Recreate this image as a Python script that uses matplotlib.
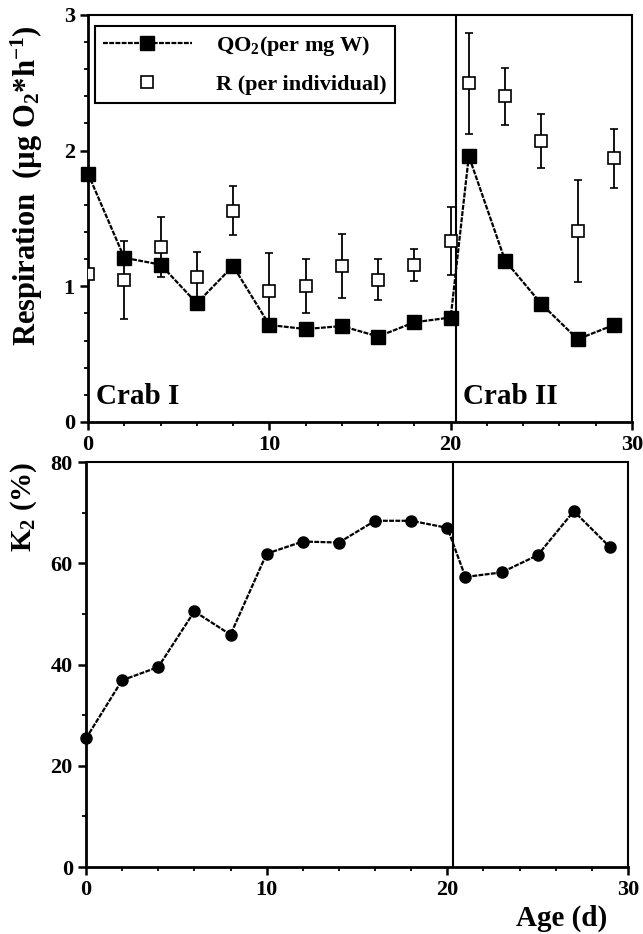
import numpy as np
import matplotlib.pyplot as plt
from matplotlib.ticker import MultipleLocator
from matplotlib.lines import Line2D

plt.rcParams['font.family'] = ['Liberation Serif', 'DejaVu Serif']
plt.rcParams['font.weight'] = 'bold'
plt.rcParams['mathtext.fontset'] = 'custom'
plt.rcParams['mathtext.rm'] = 'Liberation Serif:bold'
plt.rcParams['mathtext.bf'] = 'Liberation Serif:bold'
plt.rcParams['mathtext.it'] = 'Liberation Serif:bold'
plt.rcParams['mathtext.default'] = 'bf'

# age in days, crab I and crab II stages
age = [0, 2, 4, 6, 8, 10, 12, 14, 16, 18, 20, 21, 23, 25, 27, 29]
moult_age = 20.3

# oxygen consumption per mg dry weight
qo2 = [1.83, 1.21, 1.16, 0.875, 1.15, 0.715, 0.685, 0.707, 0.63, 0.735, 0.77,
       1.96, 1.19, 0.87, 0.61, 0.715]

# respiration per individual and its SD
resp = [1.09, 1.046, 1.29, 1.066, 1.557, 0.967, 1.004, 1.152, 1.05, 1.157, 1.336,
        2.496, 2.40, 2.073, 1.41, 1.943]
resp_sd = [0.0, 0.29, 0.22, 0.19, 0.18, 0.28, 0.20, 0.235, 0.15, 0.12, 0.25,
           0.37, 0.21, 0.20, 0.375, 0.22]

# net growth efficiency K2
k2 = [25.4, 36.9, 39.5, 50.5, 45.9, 61.9, 64.3, 64.1, 68.4, 68.4, 67.0,
      57.3, 58.2, 61.6, 70.3, 63.2]

line_style = (0, (2.2, 0.6))


def style_axes(ax):
    for side in ['left', 'bottom']:
        ax.spines[side].set_linewidth(2.0)
    for side in ['top', 'right']:
        ax.spines[side].set_linewidth(1.5)
    ax.tick_params(which='major', direction='out', length=6, width=1.8, labelsize=16)
    ax.tick_params(which='minor', direction='out', length=3, width=1.3)
    ax.xaxis.set_major_locator(MultipleLocator(10))
    ax.xaxis.set_minor_locator(MultipleLocator(2))
    ax.set_xlim(0, 30)
    for lab in ax.get_xticklabels() + ax.get_yticklabels():
        lab.set_fontweight('bold')


fig = plt.figure(figsize=(6.43, 9.34), dpi=100)
ax1 = fig.add_axes([0.1369, 0.5482, 0.846, 0.4358])
ax2 = fig.add_axes([0.1337, 0.0717, 0.843, 0.4336])

# respiration panel
ax1.errorbar(age, resp, yerr=resp_sd, fmt='s', color='black', mfc='white', mec='black',
             ms=8, mew=1.2, elinewidth=1.3, capsize=3, capthick=1.3, zorder=3)
ax1.plot(age, qo2, color='black', linestyle=line_style, linewidth=1.6, marker='s',
         ms=9.5, mfc='black', mec='black', zorder=4, clip_on=False)
ax1.axvline(moult_age, color='black', linewidth=1.5)
ax1.set_ylim(0, 3)
ax1.yaxis.set_major_locator(MultipleLocator(1))
ax1.yaxis.set_minor_locator(MultipleLocator(0.2))
style_axes(ax1)
ax1.set_ylabel('Respiration  (µg O$_2$*h$^{-1}$)', fontsize=22, fontweight='bold')
ax1.yaxis.set_label_coords(-0.079, 0.58)
ax1.text(0.015, 0.03, 'Crab I', transform=ax1.transAxes, fontsize=21, fontweight='bold',
         ha='left', va='bottom')
ax1.text(0.69, 0.03, 'Crab II', transform=ax1.transAxes, fontsize=21, fontweight='bold',
         ha='left', va='bottom')

handles = [Line2D([], [], color='black', linestyle=line_style, linewidth=1.6, marker='s',
                  ms=9.5, mfc='black'),
           Line2D([], [], linestyle='none', marker='s', ms=8, mfc='white', mec='black', mew=1.2)]
leg = ax1.legend(handles, ['QO$_2$(per mg W)', 'R (per individual)'], loc='upper left',
                 bbox_to_anchor=(0.013, 0.973), borderaxespad=0, fontsize=16,
                 handlelength=4.0, fancybox=False, framealpha=1, edgecolor='black',
                 borderpad=0.35, labelspacing=0.75, handletextpad=1.1)
leg.get_frame().set_linewidth(1.5)

# growth efficiency panel
ax2.plot(age, k2, color='black', linestyle=line_style, linewidth=1.6, marker='o',
         ms=8, mfc='black', mec='black', zorder=4, clip_on=False)
ax2.axvline(moult_age, color='black', linewidth=1.5)
ax2.set_ylim(0, 80)
ax2.yaxis.set_major_locator(MultipleLocator(20))
ax2.yaxis.set_minor_locator(MultipleLocator(10))
style_axes(ax2)
ax2.set_ylabel('K$_2$ (%)', fontsize=21, fontweight='bold', loc='top', labelpad=8)
ax2.set_xlabel('Age (d)', fontsize=21, fontweight='bold', loc='right')
ax2.xaxis.set_label_coords(0.961, -0.094)

fig.savefig('out.png', dpi=100)
